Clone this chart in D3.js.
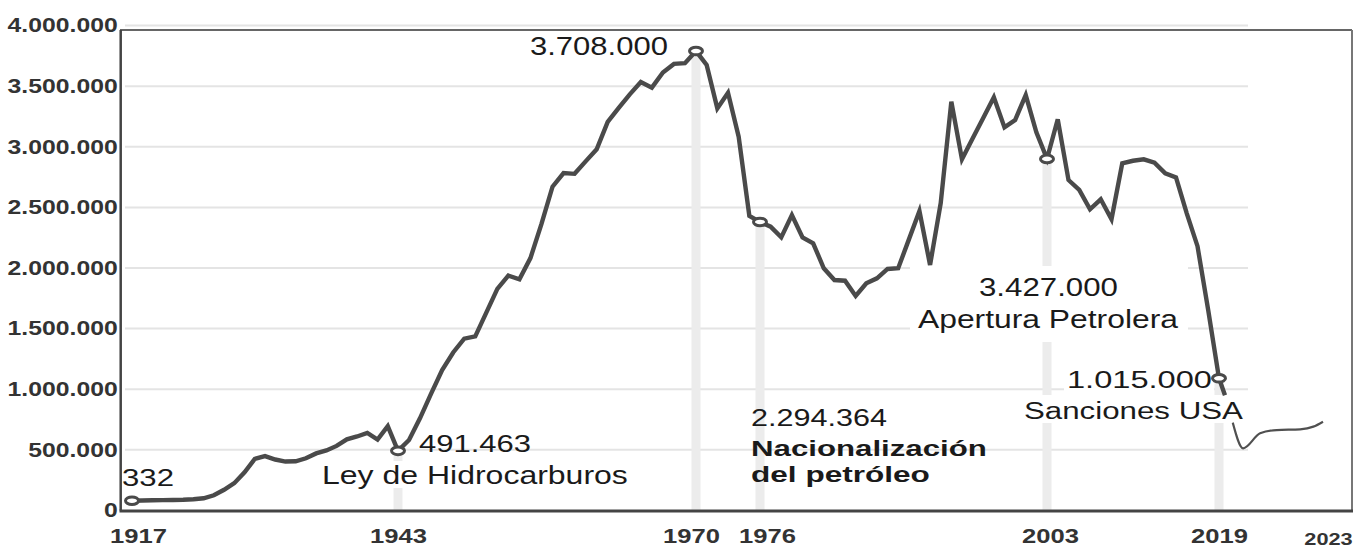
<!DOCTYPE html>
<html>
<head>
<meta charset="utf-8">
<script src="https://cdn.jsdelivr.net/npm/d3@7"></script>
<style>
  body { margin: 0; background: #fff; }
  svg { display: block; }
</style>
</head>
<body>
<svg id="chart"></svg>
<script>
// production (barrels/day)
const years = [
  1917, 1918, 1919, 1920, 1921, 1922, 1923, 1924, 1925, 1926, 1927, 1928, 1929,
  1930, 1931, 1932, 1933, 1934, 1935, 1936, 1937, 1938, 1939, 1940, 1941, 1942,
  1943, 1944, 1945, 1946, 1947, 1948, 1949, 1950, 1951, 1952, 1953, 1954, 1955,
  1956, 1957, 1958, 1959, 1960, 1961, 1962, 1963, 1964, 1965, 1966, 1967, 1968,
  1969, 1970, 1971, 1972, 1973, 1974, 1975, 1976, 1977, 1978, 1979, 1980, 1981,
  1982, 1983, 1984, 1985, 1986, 1987, 1988, 1989, 1990, 1991, 1992, 1993, 1994,
  1995, 1996, 1997, 1998, 1999, 2000, 2001, 2002, 2003, 2004, 2005, 2006, 2007,
  2008, 2009, 2010, 2011, 2012, 2013, 2014, 2015, 2016, 2017, 2018, 2019, 2019.23
];
const production = [
  80000, 82000, 84000, 85000, 86000, 88000, 92000, 100000, 125000, 170000, 225000, 315000, 425000,
  448000, 420000, 403000, 405000, 430000, 470000, 495000, 532000, 586000, 610000, 640000, 585000, 695000,
  491463, 581000, 762000, 964000, 1158000, 1303000, 1417000, 1436000, 1632000, 1828000, 1937000, 1907000, 2082000,
  2364000, 2671000, 2783000, 2777000, 2880000, 2980000, 3206000, 3322000, 3433000, 3535000, 3488000, 3613000, 3684000,
  3690000, 3790000, 3675000, 3317000, 3446000, 3083000, 2430000, 2380000, 2341000, 2253000, 2437000, 2253000, 2204000,
  1998000, 1901000, 1895000, 1769000, 1874000, 1915000, 1992000, 1998000, 2234000, 2470000, 2025000, 2535000, 3372000,
  2897000, 3068000, 3238000, 3408000, 3160000, 3221000, 3427000, 3120000, 2900000, 3227000, 2726000, 2644000, 2484000,
  2567000, 2402000, 2864000, 2885000, 2897000, 2869000, 2781000, 2748000, 2451000, 2180000, 1650000, 1090000, 950000
];

// thin hand-drawn continuation after the sanctions
const tailYears = [2019.53, 2019.93, 2020.58, 2021.22, 2022.12, 2022.63, 2023];
const tailProduction = [724000, 512000, 636000, 663000, 669000, 691000, 732000];

const eventYears = [1917, 1943, 1970, 1976, 2003, 2019];
const xTickYears = [1917, 1943, 1970, 1976, 2003, 2019, 2023];
const yTicks = [0, 500000, 1000000, 1500000, 2000000, 2500000, 3000000, 3500000, 4000000];

const eventLabels = [
  "332", "491.463", "Ley de Hidrocarburos", "3.708.000", "2.294.364",
  "Nacionalización", "del petróleo", "3.427.000", "Apertura Petrolera",
  "1.015.000", "Sanciones USA"
];

// layout for the labels above: left x, baseline y, font size, target width, bold
const labelLayout = [
  [122, 486, 24.5, 52, false],
  [419, 452, 23.5, 112, false],
  [322, 484, 25, 306, false],
  [530, 55, 25, 138, false],
  [751, 426, 23.5, 136, false],
  [751, 456, 22.5, 236, true],
  [751, 482, 22.5, 179, true],
  [979, 296, 25, 139, false],
  [918, 328, 25, 260, false],
  [1067, 388, 24.5, 145, false],
  [1024, 419, 24.5, 219, false]
];

// white boxes that sit behind some labels (they hide grid and bands)
const labelBoxes = [
  [318, 461, 314, 27],
  [910, 266, 278, 76],
  [1064, 368, 150, 24],
  [1022, 395, 224, 28]
];

const width = 1369, height = 547;
const svg = d3.select("#chart").attr("width", width).attr("height", height);
svg.append("rect").attr("width", width).attr("height", height).attr("fill", "#fff");

// the picture's year axis is not evenly spaced, so use a piecewise scale
const x = d3.scaleLinear()
  .domain([1917, 1943, 1970, 1976, 2003, 2019, 2023])
  .range([132, 398, 696, 760, 1047, 1219, 1323]);

const y = d3.scaleLinear().domain([0, 4000000]).range([510.4, 25.6]);

const locale = d3.formatLocale({ decimal: ",", thousands: ".", grouping: [3], currency: ["", ""] });
const fmt = locale.format(",d");

// grid
svg.append("g")
  .selectAll("line")
  .data(yTicks.filter((d) => d > 0))
  .join("line")
  .attr("x1", 125)
  .attr("x2", 1248)
  .attr("y1", (d) => y(d))
  .attr("y2", (d) => y(d))
  .attr("stroke", "#e4e4e4")
  .attr("stroke-width", 2);

// light vertical bands under the event markers
const valueAt = (yr) => production[years.indexOf(yr)];
svg.append("g")
  .selectAll("line")
  .data(eventYears.filter((d) => d !== 1917))
  .join("line")
  .attr("x1", (d) => x(d))
  .attr("x2", (d) => x(d))
  .attr("y1", (d) => y(valueAt(d)))
  .attr("y2", y(0))
  .attr("stroke", "#ececec")
  .attr("stroke-width", 9);

// label backgrounds
svg.append("g")
  .selectAll("rect")
  .data(labelBoxes)
  .join("rect")
  .attr("x", (d) => d[0])
  .attr("y", (d) => d[1])
  .attr("width", (d) => d[2])
  .attr("height", (d) => d[3])
  .attr("fill", "#fff");

// frame
const frame = svg.append("g").attr("fill", "none");
frame.append("line").attr("x1", 120).attr("x2", 1352).attr("y1", 30).attr("y2", 30)
  .attr("stroke", "#666").attr("stroke-width", 2);
frame.append("line").attr("x1", 1352).attr("x2", 1352).attr("y1", 30).attr("y2", 511)
  .attr("stroke", "#777").attr("stroke-width", 2);

// axes
const yAxis = svg.append("g")
  .attr("transform", "translate(120.7,0)")
  .call(d3.axisLeft(y).tickValues(yTicks).tickFormat(fmt).tickSize(0).tickPadding(0));
yAxis.select(".domain").attr("d", `M0,30V${y(0)}`).attr("stroke", "#444").attr("stroke-width", 2.5);
yAxis.selectAll("text")
  .attr("x", -2.4)
  .attr("font-family", "'Liberation Sans', Arial, sans-serif")
  .attr("font-size", 19.5)
  .attr("font-weight", "bold")
  .attr("fill", "#333")
  .attr("transform", "scale(1.27,1)");

const xNudge = { 1917: 6, 1970: -5, 1976: 7, 2003: 3, 2023: 5 };
const xAxis = svg.append("g")
  .attr("transform", `translate(0,${y(0)})`)
  .call(d3.axisBottom(x).tickValues(xTickYears).tickFormat(d3.format("d")).tickSize(0).tickPadding(18));
xAxis.select(".domain").attr("d", "M119.5,0.5H1353").attr("stroke", "#444").attr("stroke-width", 3);
xAxis.selectAll("text")
  .attr("font-family", "'Liberation Sans', Arial, sans-serif")
  .attr("font-size", (d) => (d === 2023 ? 17 : 20))
  .attr("font-weight", "bold")
  .attr("fill", "#333")
  .attr("dy", (d) => (d === 2023 ? "0.95em" : "0.71em"))
  .attr("transform", (d) => `translate(${xNudge[d] || 0},0) scale(1.28,1)`);

// main series
const line = d3.line().x((d) => x(d[0])).y((d) => y(d[1]));
svg.append("path")
  .datum(years.map((yr, i) => [yr, production[i]]))
  .attr("d", line)
  .attr("fill", "none")
  .attr("stroke", "#4a4a4a")
  .attr("stroke-width", 4.4)
  .attr("stroke-linejoin", "miter");

svg.append("path")
  .datum(tailYears.map((yr, i) => [yr, tailProduction[i]]))
  .attr("d", line.curve(d3.curveMonotoneX))
  .attr("fill", "none")
  .attr("stroke", "#505050")
  .attr("stroke-width", 2.2)
  .attr("stroke-linejoin", "round");

// event markers
svg.append("g")
  .selectAll("ellipse")
  .data(eventYears)
  .join("ellipse")
  .attr("cx", (d) => x(d))
  .attr("cy", (d) => y(valueAt(d)))
  .attr("rx", 6.5)
  .attr("ry", 3.8)
  .attr("fill", "#fff")
  .attr("stroke", "#4a4a4a")
  .attr("stroke-width", 3);

// annotation labels, stretched to the picture's widths
const labels = svg.append("g");
eventLabels.forEach((t, i) => {
  const [lx, ly, size, w, bold] = labelLayout[i];
  const txt = labels.append("text")
    .text(t)
    .attr("font-family", "'Liberation Sans', Arial, sans-serif")
    .attr("font-size", size)
    .attr("font-weight", bold ? "bold" : "normal")
    .attr("fill", "#1a1a1a");
  const len = txt.node().getComputedTextLength();
  txt.attr("transform", `translate(${lx},${ly}) scale(${w / len},1)`);
});
</script>
</body>
</html>
